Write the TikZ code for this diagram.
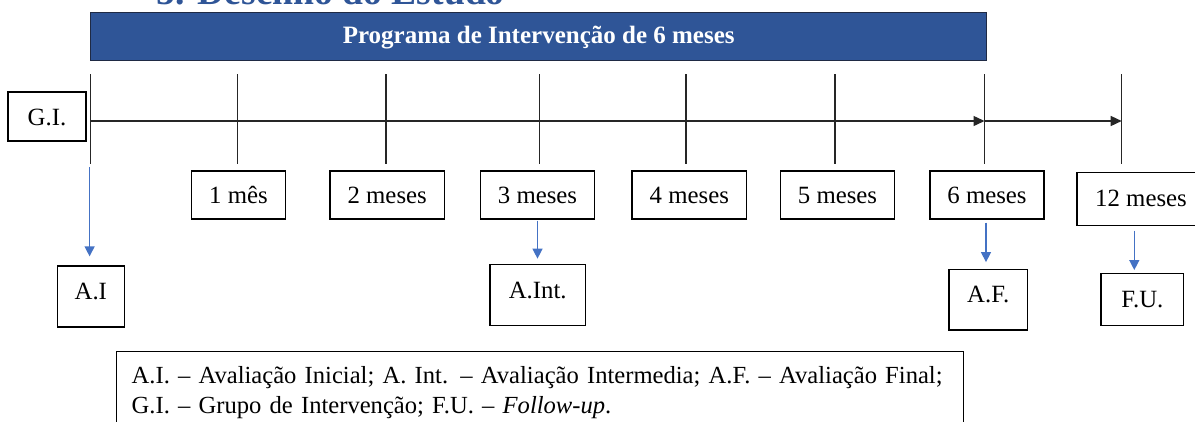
\documentclass[tikz,border=0pt]{standalone}
\usepackage{fontspec}
\setmainfont{Liberation Serif}
\usetikzlibrary{arrows.meta}
\definecolor{barblue}{HTML}{2F5597}
\definecolor{arrowblue}{HTML}{4472C4}
\definecolor{barline}{HTML}{1F2A44}
\definecolor{headblue}{HTML}{2F5597}
\tikzset{
  boxnode/.style={draw=black, line width=1.3pt, inner sep=0pt, fill=white,
    font=\fontsize{24.8pt}{29pt}\selectfont, text height=17pt, text depth=0pt},
  tickline/.style={line width=1.4pt, draw=black!85},
  timeline/.style={line width=1.4pt, draw=black!85, -{Triangle[width=10pt,length=11pt]}},
  bluearrow/.style={line width=1.3pt, draw=arrowblue, color=arrowblue, -{Triangle[width=10pt,length=10pt]}},
  barnode/.style={draw=barline, line width=1.4pt, fill=barblue, inner sep=0pt, text=white,
    font=\fontsize{25pt}{29pt}\selectfont\bfseries, text height=17pt, text depth=3.8pt},
  legendbox/.style={draw=black, line width=1.3pt, anchor=north west, align=left,
    text width=817pt, inner xsep=15pt, inner ysep=15.4pt,
    font=\fontsize{24.6pt}{29.7pt}\selectfont},
  headnode/.style={anchor=base west, inner sep=0pt, text=headblue,
    font=\fontsize{37.6pt}{40pt}\selectfont\bfseries}
}
\begin{document}
\begin{tikzpicture}[x=1pt,y=-1pt]
\useasboundingbox (0,0) rectangle (1195,421);
\clip (0,0) rectangle (1195,421);
\fill[white] (0,0) rectangle (1195,421);

% heading (cut off at the top)
\node[headnode] (head) at (156.7,4.5) {5. Desenho do Estudo};

% programme bar
\node[barnode, minimum width=896pt, minimum height=48pt] (bar) at (538.7,36.7) {Programa de Intervenção de 6 meses};

% ticks and timeline
\foreach \i/\x in {0/90.7,1/237.3,2/386,3/539.3,4/686,5/835,6/984.5,7/1121.7}{
  \coordinate (tT\i) at (\x,74);
  \coordinate (tB\i) at (\x,164);
  \coordinate (p\i) at (\x,121);
  \draw[tickline] (tT\i) -- (tB\i);
}
\draw[timeline] (p0) -- (p6);
\draw[timeline] (p6) -- (p7);

% G.I. box
\node[boxnode, minimum width=78pt, minimum height=49pt] (GI) at (47,116.5) {G.I.};

% month boxes
\node[boxnode, minimum width=94pt, minimum height=48pt] (m1) at (238.5,195) {1 mês};
\node[boxnode, minimum width=114.3pt, minimum height=48pt] (m2) at (387.2,195) {2 meses};
\node[boxnode, minimum width=114.4pt, minimum height=48pt] (m3) at (537.5,195) {3 meses};
\node[boxnode, minimum width=114.7pt, minimum height=48pt] (m4) at (689.3,195) {4 meses};
\node[boxnode, minimum width=113.6pt, minimum height=48pt] (m5) at (837.5,195) {5 meses};
\node[boxnode, minimum width=114pt, minimum height=48pt] (m6) at (987,195) {6 meses};
\node[boxnode, minimum width=128pt, minimum height=53pt, text depth=3.4pt] (m12) at (1141,199.2) {12 meses};

% assessment boxes
\node[boxnode, minimum width=67pt, minimum height=61pt, text depth=12pt] (AI) at (90.8,296.5) {A.I};
\node[boxnode, minimum width=95.3pt, minimum height=61.4pt, text depth=11pt] (AInt) at (537.7,295) {A.Int.};
\node[boxnode, minimum width=78.3pt, minimum height=60.7pt, text depth=11pt] (AF) at (988.2,299.7) {A.F.};
\node[boxnode, minimum width=82.7pt, minimum height=52pt, text depth=1.8pt] (FU) at (1142.3,299.7) {F.U.};

% blue arrows
\coordinate (aiS) at (89.6,167);
\draw[bluearrow, shorten >=9pt] (aiS) -- (aiS |- AI.north);
\draw[bluearrow, shorten <=1pt, shorten >=5pt] (m3.south) -- (m3.south |- AInt.north);
\draw[bluearrow, shorten <=3pt, shorten >=6.6pt] ([xshift=-1pt]m6.south) -- ([xshift=-1pt]m6.south |- AF.north);
\draw[bluearrow, shorten <=4.3pt, shorten >=3pt] ([xshift=-6.7pt]m12.south) -- ([xshift=-6.7pt]m12.south |- FU.north);

% legend
\node[legendbox] (leg) at (116,350.7) {\mbox{\rule{0pt}{17pt}A.I. -- Avaliação Inicial; A. Int. -- Avaliação Intermedia; A.F. -- Avaliação Final;}\\
\mbox{G.I. -- Grupo de Intervenção; F.U. -- \textit{Follow-up}.}};
\end{tikzpicture}
\end{document}
